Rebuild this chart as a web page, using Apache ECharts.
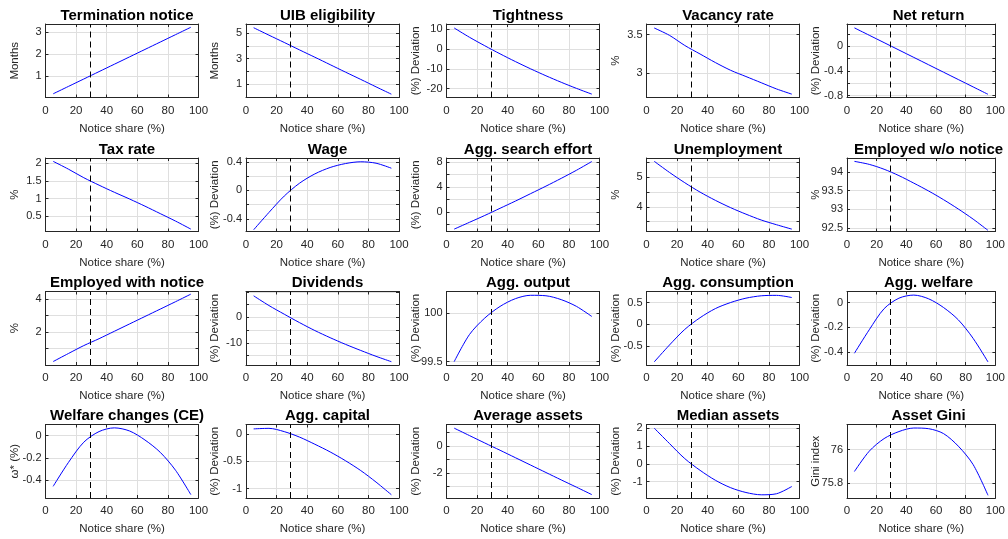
<!DOCTYPE html>
<html>
<head>
<meta charset="utf-8">
<script src="https://cdn.jsdelivr.net/npm/echarts@6/dist/echarts.min.js"></script>
<style>
  html, body { margin: 0; padding: 0; background: #fff; }
  #chart { width: 1008px; height: 539px; }
</style>
</head>
<body>
<div id="chart"></div>
<script>
// x grid: share of jobs with notice (%)
const noticeShare = [5, 15, 25, 35, 45, 55, 65, 75, 85, 95];
const baselineShare = 29;

// series, one per panel
const terminationNotice = [0.17, 0.51, 0.85, 1.19, 1.53, 1.87, 2.21, 2.55, 2.89, 3.23];
const uibEligibility   = [5.41, 4.83, 4.26, 3.68, 3.11, 2.53, 1.95, 1.38, 0.80, 0.23];
const tightness        = [10.7, 6.0, 1.7, -2.4, -6.3, -10.0, -13.5, -16.8, -19.9, -22.8];
const vacancyRate      = [3.585, 3.49, 3.36, 3.25, 3.14, 3.04, 2.96, 2.88, 2.80, 2.733];
const netReturn        = [0.30, 0.18, 0.06, -0.06, -0.18, -0.30, -0.42, -0.54, -0.66, -0.78];
const taxRate          = [2.05, 1.83, 1.59, 1.38, 1.18, 0.99, 0.79, 0.58, 0.37, 0.144];
const wage             = [-0.553, -0.31, -0.08, 0.10, 0.23, 0.32, 0.375, 0.40, 0.38, 0.31];
const searchEffort     = [-2.74, -1.65, -0.55, 0.6, 1.75, 2.95, 4.15, 5.4, 6.7, 8.1];
const unemployment     = [5.55, 5.17, 4.82, 4.50, 4.22, 3.97, 3.75, 3.55, 3.39, 3.24];
const employedNoNotice = [94.28, 94.20, 94.07, 93.90, 93.70, 93.49, 93.26, 93.01, 92.74, 92.44];
const employedNotice   = [0.21, 0.70, 1.18, 1.60, 2.05, 2.50, 2.95, 3.40, 3.85, 4.31];
const dividends        = [8.4, 4.6, 1.2, -2.1, -5.2, -8.0, -10.6, -13.0, -15.3, -17.4];
const aggOutput        = [99.50, 99.78, 99.95, 100.07, 100.15, 100.185, 100.18, 100.14, 100.07, 99.966];
const aggConsumption   = [-0.87, -0.48, -0.12, 0.15, 0.36, 0.50, 0.60, 0.655, 0.665, 0.615];
const aggWelfare       = [-0.41, -0.22, -0.05, 0.035, 0.06, 0.03, -0.04, -0.14, -0.29, -0.48];
const welfareCE        = [-0.453, -0.24, -0.06, 0.035, 0.068, 0.04, -0.04, -0.15, -0.31, -0.527];
const aggCapital       = [0.09, 0.10, 0.04, -0.06, -0.19, -0.33, -0.49, -0.67, -0.88, -1.11];
const averageAssets    = [1.33, 0.78, 0.23, -0.31, -0.86, -1.41, -1.96, -2.51, -3.05, -3.60];
const medianAssets     = [2.02, 1.15, 0.30, -0.36, -0.92, -1.34, -1.61, -1.74, -1.68, -1.27];
const assetGini        = [75.869, 75.99, 76.065, 76.107, 76.128, 76.124, 76.095, 76.02, 75.91, 75.727];

// y tick labels shown in each panel
const ticksTermination = [1, 2, 3];
const ticksUib         = [1, 3, 5];
const ticksTightness   = [-20, -10, 0, 10];
const ticksVacancy     = [3, 3.5];
const ticksNetReturn   = [-0.8, -0.4, 0];
const ticksTax         = [0.5, 1, 1.5, 2];
const ticksWage        = [-0.4, 0, 0.4];
const ticksSearch      = [0, 4, 8];
const ticksUnemp       = [4, 5];
const ticksEmpNo       = [92.5, 93, 93.5, 94];
const ticksEmpNotice   = [2, 4];
const ticksDividends   = [-10, 0];
const ticksOutput      = [99.5, 100];
const ticksCons        = [-0.5, 0, 0.5];
const ticksWelfare     = [-0.4, -0.2, 0];
const ticksCE          = [-0.4, -0.2, 0];
const ticksCapital     = [-1, -0.5, 0];
const ticksAvgAssets   = [-2, 0];
const ticksMedAssets   = [-1, 0, 1, 2];
const ticksGini        = [75.8, 76];

const DEV = '(%) Deviation';
const panels = [
  ['Termination notice', 'Months', terminationNotice, ticksTermination, 0, 3.38, 1],
  ['UIB eligibility', 'Months', uibEligibility, ticksUib, -0.03, 5.7, 1],
  ['Tightness', DEV, tightness, ticksTightness, -24.5, 12.7, 10],
  ['Vacancy rate', '%', vacancyRate, ticksVacancy, 2.69, 3.636, 0.5],
  ['Net return', DEV, netReturn, ticksNetReturn, -0.832, 0.363, 0.2],
  ['Tax rate', '%', taxRate, ticksTax, 0.077, 2.144, 0.5],
  ['Wage', DEV, wage, ticksWage, -0.577, 0.453, 0.2],
  ['Agg. search effort', DEV, searchEffort, ticksSearch, -3.12, 8.66, 2],
  ['Unemployment', '%', unemployment, ticksUnemp, 3.16, 5.66, 0.5],
  ['Employed w/o notice', '%', employedNoNotice, ticksEmpNo, 92.41, 94.37, 0.5],
  ['Employed with notice', '%', employedNotice, ticksEmpNotice, 0, 4.47, 1],
  ['Dividends', DEV, dividends, ticksDividends, -18.7, 10.1, 5],
  ['Agg. output', DEV, aggOutput, ticksOutput, 99.466, 100.224, 0.5],
  ['Agg. consumption', DEV, aggConsumption, ticksCons, -0.94, 0.754, 0.5],
  ['Agg. welfare', DEV, aggWelfare, ticksWelfare, -0.505, 0.089, 0.2],
  ['Welfare changes (CE)', 'ω* (%)', welfareCE, ticksCE, -0.557, 0.098, 0.2],
  ['Agg. capital', DEV, aggCapital, ticksCapital, -1.17, 0.17, 0.5],
  ['Average assets', DEV, averageAssets, ticksAvgAssets, -3.85, 1.6, 1],
  ['Median assets', DEV, medianAssets, ticksMedAssets, -1.92, 2.22, 1],
  ['Asset Gini', 'Gini index', assetGini, ticksGini, 75.711, 76.149, 0.2]
];

const FONT = '"Liberation Sans", Arial, sans-serif';
const INK = '#262626';
const GRIDLINE = '#dfdfdf';
const colLeft = [45.5, 246, 446.5, 646.5, 847];
const rowTop = [24, 158, 291.5, 424.5];
const W = 153, H = 73.5;

// grid line positions: multiples of the step inside the axis range
function stepsIn(min, max, step) {
  const out = [];
  for (let k = Math.ceil(min / step - 1e-9); k * step <= max + 1e-9; k++) {
    out.push(+(k * step).toFixed(6));
  }
  return out;
}

const grid = [], xAxis = [], yAxis = [], series = [], title = [];

panels.forEach(function (p, i) {
  const [name, yName, values, ticks, yMin, yMax, yStep] = p;
  const left = colLeft[i % 5], top = rowTop[Math.floor(i / 5)];
  const yLines = stepsIn(yMin, yMax, yStep);
  grid.push({ left: left, top: top, width: W, height: H });
  title.push({
    text: name, left: left + W / 2, top: top - 21, textAlign: 'center',
    textStyle: { fontFamily: FONT, fontSize: 15, fontWeight: 'bold', color: '#000' }
  });
  const lineBox = { show: true, onZero: false, lineStyle: { color: INK, width: 1 } };
  const tickIn = { show: true, inside: true, length: 3, lineStyle: { color: INK } };
  xAxis.push({
    gridIndex: i, type: 'value', min: 0, max: 100, interval: 20,
    name: 'Notice share (%)', nameLocation: 'middle', nameGap: 25, nameMoveOverlap: false,
    nameTextStyle: { fontFamily: FONT, fontSize: 11.5, color: INK },
    axisLine: lineBox, axisTick: tickIn,
    axisLabel: { margin: 7, fontFamily: FONT, fontSize: 11.5, color: INK },
    splitLine: { show: true, lineStyle: { color: GRIDLINE, width: 1 } }
  });
  xAxis.push({
    gridIndex: i, type: 'value', position: 'top', min: 0, max: 100, interval: 20,
    axisLine: lineBox, axisTick: tickIn, axisLabel: { show: false }, splitLine: { show: false }
  });
  yAxis.push({
    gridIndex: i, type: 'value', min: yMin, max: yMax,
    name: yName, nameLocation: 'middle', nameGap: 25, nameRotate: 90, nameMoveOverlap: false,
    nameTextStyle: { fontFamily: FONT, fontSize: 11.5, color: INK },
    axisLine: lineBox,
    axisTick: Object.assign({ customValues: yLines }, tickIn),
    axisLabel: { margin: 4, fontFamily: FONT, fontSize: 11, color: INK, customValues: ticks },
    splitLine: { show: true, lineStyle: { color: GRIDLINE, width: 1 } }
  });
  yAxis.push({
    gridIndex: i, type: 'value', position: 'right', min: yMin, max: yMax,
    axisLine: lineBox,
    axisTick: Object.assign({ customValues: yLines }, tickIn),
    axisLabel: { show: false }, splitLine: { show: false }
  });
  series.push({
    type: 'line', xAxisIndex: 2 * i, yAxisIndex: 2 * i,
    data: noticeShare.map(function (x, k) { return [x, values[k]]; }),
    smooth: 0.3, showSymbol: false, silent: true,
    lineStyle: { color: '#0000ff', width: 1 },
    markLine: {
      silent: true, symbol: 'none', label: { show: false },
      lineStyle: { color: '#000', width: 1, type: [6, 4] },
      data: [{ xAxis: baselineShare }]
    }
  });
});

const chart = echarts.init(document.getElementById('chart'));
chart.setOption({
  animation: false,
  backgroundColor: '#fff',
  title: title,
  grid: grid,
  xAxis: xAxis,
  yAxis: yAxis,
  series: series
});
</script>
</body>
</html>
